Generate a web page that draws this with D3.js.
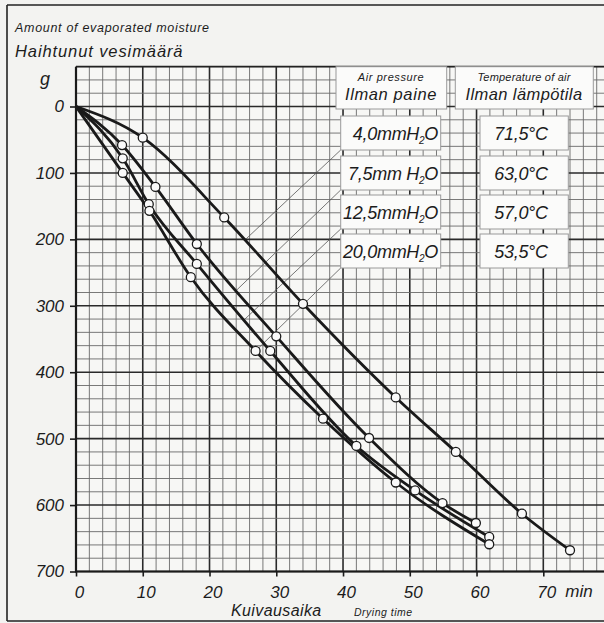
<!DOCTYPE html>
<html><head><meta charset="utf-8">
<script src="https://cdn.jsdelivr.net/npm/d3@7"></script>
<style>
html,body{margin:0;padding:0;background:#f3f3f1;}
svg{display:block;}
text{font-family:"Liberation Sans",Arial,sans-serif;font-style:italic;fill:#1c1c1c;}
</style></head>
<body>
<svg id="chart" width="604" height="623"></svg>
<script>
// ---- data ----
const timesA = [0, 10, 22.2, 34, 47.9, 56.9, 66.8, 74];
const moistA = [0, 47, 167, 297, 438, 520, 613, 668];
const timesB = [0, 6.9, 11.9, 18.1, 30, 43.9, 54.9, 59.9];
const moistB = [0, 58, 121, 207, 346, 499, 597, 627];
const timesC = [0, 7, 10.9, 18.1, 29.1, 42, 50.8, 61.9];
const moistC = [0, 78, 147, 237, 368, 511, 578, 648];
const timesD = [0, 7, 11, 17.2, 26.9, 37, 47.9, 61.9];
const moistD = [0, 100, 157, 257, 368, 470, 566, 659];

const pressureLabels = ["4,0mm", "7,5mm ", "12,5mm", "20,0mm"];
const temperatureLabels = ["71,5°C", "63,0°C", "57,0°C", "53,5°C"];
// where each leader line meets its curve (time, grams)
const leaderTimes = [25.3, 24.0, 25.2, 26.9];
const leaderMoist = [201, 277, 321, 368];

const xTicks = [0, 10, 20, 30, 40, 50, 60, 70];
const yTicks = [0, 100, 200, 300, 400, 500, 600, 700];

const series = [
  {t: timesA, g: moistA},
  {t: timesB, g: moistB},
  {t: timesC, g: moistC},
  {t: timesD, g: moistD}
].map(s => s.t.map((t, i) => [t, s.g[i]]));

// ---- layout ----
const svg = d3.select("#chart");
const x = d3.scaleLinear().domain([0, 70]).range([76, 543.3]);
const y = d3.scaleLinear().domain([0, 700]).range([106.5, 571.5]);
const gridTop = -60, gridRight = 78;

// outer frame
svg.append("line").attr("x1", 7).attr("x2", 604).attr("y1", 5).attr("y2", 5)
  .attr("stroke", "#222").attr("stroke-width", 1.6);
svg.append("line").attr("x1", 7).attr("x2", 7).attr("y1", 5).attr("y2", 621)
  .attr("stroke", "#222").attr("stroke-width", 1.6);
svg.append("line").attr("x1", 7).attr("x2", 604).attr("y1", 621).attr("y2", 621)
  .attr("stroke", "#222").attr("stroke-width", 1.6);

// grid
const grid = svg.append("g");
grid.append("rect").attr("x", x(0)).attr("y", y(gridTop))
  .attr("width", x(gridRight) - x(0) + 8).attr("height", y(700) - y(gridTop))
  .attr("fill", "#f7f7f5");
const vx = d3.range(0, gridRight + 0.1, 2);
const hy = d3.range(gridTop, 700.1, 20);
grid.selectAll("line.v").data(vx).join("line")
  .attr("x1", d => x(d)).attr("x2", d => x(d))
  .attr("y1", y(gridTop)).attr("y2", y(700))
  .attr("stroke", d => d % 10 === 0 ? "#2a2a2a" : "#6a6a6a")
  .attr("stroke-width", d => d % 10 === 0 ? 1.6 : 0.9);
grid.selectAll("line.h").data(hy).join("line")
  .attr("x1", x(0)).attr("x2", 604)
  .attr("y1", d => y(d)).attr("y2", d => y(d))
  .attr("stroke", d => d % 100 === 0 ? "#2a2a2a" : "#6a6a6a")
  .attr("stroke-width", d => d % 100 === 0 ? 1.6 : 0.9);
// top grid edge and axes
grid.append("line").attr("x1", x(0)).attr("x2", 604).attr("y1", y(gridTop)).attr("y2", y(gridTop))
  .attr("stroke", "#222").attr("stroke-width", 1.6);
grid.append("line").attr("x1", x(0)).attr("x2", x(0)).attr("y1", y(gridTop)).attr("y2", y(700))
  .attr("stroke", "#1a1a1a").attr("stroke-width", 2.2);
grid.append("line").attr("x1", x(0) - 1).attr("x2", 604).attr("y1", y(700)).attr("y2", y(700))
  .attr("stroke", "#1a1a1a").attr("stroke-width", 2.2);

// axes via d3
const yAxis = d3.axisLeft(y).tickValues(yTicks).tickSize(6).tickPadding(6).tickFormat(d3.format("d"));
const ya = svg.append("g").attr("transform", `translate(${x(0)},0)`).call(yAxis);
ya.select(".domain").remove();
ya.selectAll("line").attr("stroke", "#1a1a1a").attr("stroke-width", 1.6);
ya.selectAll("text").attr("font-size", 17).attr("font-family", "Liberation Sans").attr("fill", "#1c1c1c");

const xAxis = d3.axisBottom(x).tickValues(xTicks).tickSize(5).tickPadding(9).tickFormat(d3.format("d"));
const xa = svg.append("g").attr("transform", `translate(0,${y(700)})`).call(xAxis);
xa.select(".domain").remove();
xa.selectAll("line").attr("stroke", "#1a1a1a").attr("stroke-width", 1.6);
xa.selectAll("text").attr("font-size", 17).attr("font-family", "Liberation Sans").attr("fill", "#1c1c1c")
  .attr("dx", 3);

svg.append("text").attr("x", x(70) + 22).attr("y", 597).attr("font-size", 17).text("min");

// titles
svg.append("text").attr("x", 15).attr("y", 32).attr("font-size", 12.5)
  .attr("letter-spacing", 0.7).text("Amount of evaporated moisture");
svg.append("text").attr("x", 15).attr("y", 57).attr("font-size", 16.5)
  .attr("letter-spacing", 0.9).text("Haihtunut vesimäärä");
svg.append("text").attr("x", 40).attr("y", 85).attr("font-size", 18).text("g");
svg.append("text").attr("x", 231).attr("y", 616).attr("font-size", 16).attr("letter-spacing", 0.4).text("Kuivausaika");
svg.append("text").attr("x", 354).attr("y", 616).attr("font-size", 10.5).attr("letter-spacing", 0.5).text("Drying  time");

// leader lines
const boxX = 340.7, boxW = 100, tBoxX = 480, tBoxW = 88.3;
const boxY = [116, 156, 195, 234], boxH = 34;
svg.append("g").selectAll("line").data(leaderTimes).join("line")
  .attr("x1", boxX).attr("y1", (d, i) => boxY[i] + boxH)
  .attr("x2", (d, i) => x(leaderTimes[i])).attr("y2", (d, i) => y(leaderMoist[i]))
  .attr("stroke", "#555").attr("stroke-width", 0.8);

// curves
const line = d3.line().x(d => x(d[0])).y(d => y(d[1])).curve(d3.curveMonotoneX);
svg.append("g").selectAll("path").data(series).join("path")
  .attr("d", line).attr("fill", "none").attr("stroke", "#1a1a1a").attr("stroke-width", 2.8)
  .attr("stroke-linejoin", "round");

// markers
svg.append("g").selectAll("g").data(series).join("g")
  .selectAll("circle").data(d => d.slice(1)).join("circle")
  .attr("cx", d => x(d[0])).attr("cy", d => y(d[1])).attr("r", 4.5)
  .attr("fill", "#fafafa").attr("stroke", "#1a1a1a").attr("stroke-width", 1.3);

// legend header boxes
const leg = svg.append("g");
function box(x0, y0, w, h) {
  leg.append("rect").attr("x", x0).attr("y", y0).attr("width", w).attr("height", h)
    .attr("fill", "#fbfbfa").attr("stroke", "#9a9a9a").attr("stroke-width", 1);
}
box(336, 66.7, 110.7, 42.3);
box(455.3, 66.7, 138, 42.3);
leg.append("text").attr("x", 391).attr("y", 81).attr("text-anchor", "middle").attr("font-size", 11)
  .attr("letter-spacing", 0.6).text("Air pressure");
leg.append("text").attr("x", 391).attr("y", 100).attr("text-anchor", "middle").attr("font-size", 16.5)
  .attr("letter-spacing", 0.6).text("Ilman paine");
leg.append("text").attr("x", 524).attr("y", 81).attr("text-anchor", "middle").attr("font-size", 11)
  .attr("letter-spacing", 0.2).text("Temperature of air");
leg.append("text").attr("x", 524).attr("y", 100).attr("text-anchor", "middle").attr("font-size", 16.5)
  .attr("letter-spacing", 0.4).text("Ilman lämpötila");

pressureLabels.forEach((p, i) => {
  box(boxX, boxY[i], boxW, boxH);
  box(tBoxX, boxY[i], tBoxW, boxH);
  const t = leg.append("text").attr("x", 438).attr("y", boxY[i] + 24)
    .attr("text-anchor", "end").attr("font-size", 18).attr("letter-spacing", -0.3);
  t.append("tspan").text(p + "H");
  t.append("tspan").attr("font-size", 10).attr("dy", 4).text("2");
  t.append("tspan").attr("dy", -4).text("O");
  leg.append("text").attr("x", 521).attr("y", boxY[i] + 24).attr("text-anchor", "middle")
    .attr("font-size", 18).attr("letter-spacing", -0.3).text(temperatureLabels[i]);
});
</script>
</body></html>
